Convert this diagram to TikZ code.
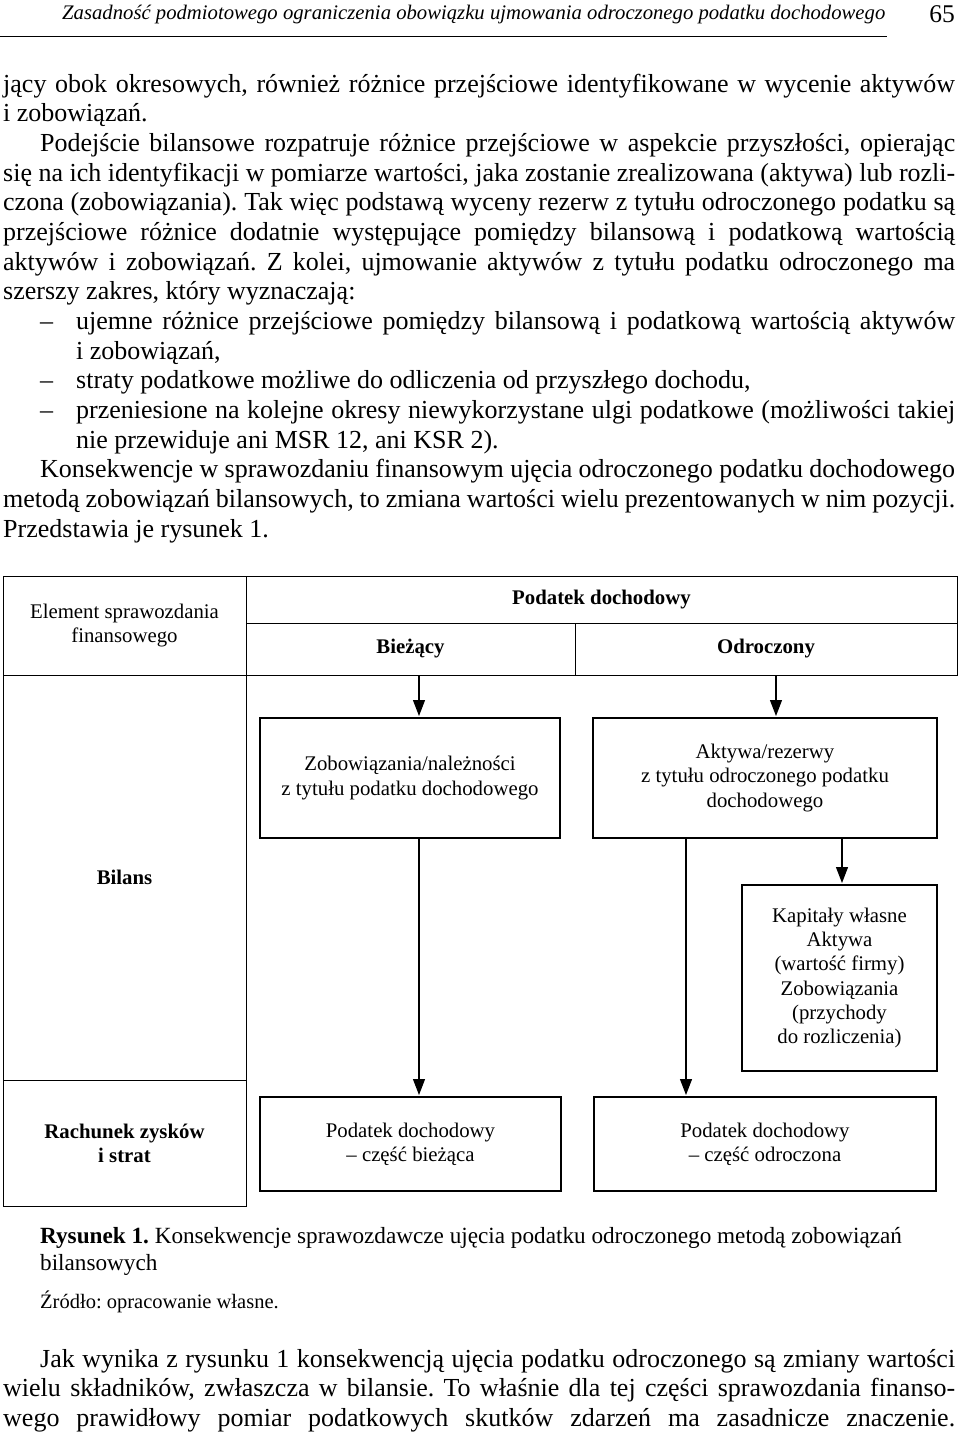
\documentclass[tikz,border=0pt]{standalone}
\usepackage{fontspec}
\setmainfont{Liberation Serif}
\usetikzlibrary{arrows.meta}
\frenchspacing
\newcommand{\jline}[2]{\makebox[#1][s]{\spaceskip=.25em plus 1em minus .14em\relax #2}}
\begin{document}
\begin{tikzpicture}[x=1pt,y=-1pt,
  body/.style={anchor=base west, inner sep=0pt, font=\fontsize{26}{29.7}\selectfont},
  hdr/.style={anchor=base west, inner sep=0pt, font=\fontsize{20.7}{24}\selectfont\itshape},
  captext/.style={anchor=base west, inner sep=0pt, font=\fontsize{23.2}{27}\selectfont},
  cell/.style={draw, line width=0.9pt, inner sep=0pt, align=center, font=\fontsize{20.8}{24.2}\selectfont},
  boldcell/.style={cell, font=\fontsize{20.8}{24.2}\selectfont\bfseries},
  box/.style={draw, line width=2pt, inner sep=0pt, align=center, font=\fontsize{20.8}{24.2}\selectfont},
  arr/.style={line width=1.2pt, -{Triangle[length=16pt,width=12pt]}, shorten >=1pt}]
\useasboundingbox (0,0) rectangle (960,1433);
\fill[white] (0,0) rectangle (960,1433);
% running header
\node[hdr] (head) at (62,19) {Zasadność podmiotowego ograniczenia obowiązku ujmowania odroczonego podatku dochodowego};
\node[anchor=base east, inner sep=0pt, font=\fontsize{25.5}{25}\selectfont] (pnum) at (955,22) {65};
\coordinate (ruleL) at (0,36);
\coordinate (ruleR) at (887,36);
\draw[line width=1pt] (ruleL) -- (ruleR);
% body text
\node[body] (l1) at (3,92) {\jline{952pt}{jący obok okresowych, również różnice przejściowe identyfikowane w wycenie aktywów}};
\node[body] (l2) at (3,121.7) {i zobowiązań.};
\node[body] (l3) at (40,151.3) {\jline{915pt}{Podejście bilansowe rozpatruje różnice przejściowe w aspekcie przyszłości, opierając}};
\node[body] (l4) at (3,181) {\jline{952pt}{się na ich identyfikacji w pomiarze wartości, jaka zostanie zrealizowana (aktywa) lub rozli-}};
\node[body] (l5) at (3,210.7) {\jline{952pt}{czona (zobowiązania). Tak więc podstawą wyceny rezerw z tytułu odroczonego podatku są}};
\node[body] (l6) at (3,240.3) {\jline{952pt}{przejściowe różnice dodatnie występujące pomiędzy bilansową i podatkową wartością}};
\node[body] (l7) at (3,270) {\jline{952pt}{aktywów i zobowiązań. Z kolei, ujmowanie aktywów z tytułu podatku odroczonego ma}};
\node[body] (l8) at (3,299.7) {szerszy zakres, który wyznaczają:};
\node[body] (d1) at (40,329.3) {–};
\node[body] (l9) at (76,329.3) {\jline{879pt}{ujemne różnice przejściowe pomiędzy bilansową i podatkową wartością aktywów}};
\node[body] (l10) at (76,359) {i zobowiązań,};
\node[body] (d2) at (40,388.7) {–};
\node[body] (l11) at (76,388.7) {straty podatkowe możliwe do odliczenia od przyszłego dochodu,};
\node[body] (d3) at (40,418.3) {–};
\node[body] (l12) at (76,418.3) {\jline{879pt}{przeniesione na kolejne okresy niewykorzystane ulgi podatkowe (możliwości takiej}};
\node[body] (l13) at (76,448) {nie przewiduje ani MSR 12, ani KSR 2).};
\node[body] (l14) at (40,477.7) {\jline{915pt}{Konsekwencje w sprawozdaniu finansowym ujęcia odroczonego podatku dochodowego}};
\node[body] (l15) at (3,507.3) {\jline{952pt}{metodą zobowiązań bilansowych, to zmiana wartości wielu prezentowanych w nim pozycji.}};
\node[body] (l16) at (3,537) {Przedstawia je rysunek 1.};
% table
\node[cell, minimum width=243pt, minimum height=99pt] (elem) at (124.5,625.5) {Element sprawozdania\\finansowego};
\node[boldcell, minimum width=711pt, minimum height=47pt] (pod) at (601.5,599.5) {Podatek dochodowy};
\node[boldcell, minimum width=329pt, minimum height=52pt] (biez) at (410.5,649) {Bieżący};
\node[boldcell, minimum width=382pt, minimum height=52pt] (odr) at (766,649) {Odroczony};
\node[boldcell, minimum width=243pt, minimum height=405pt] (bil) at (124.5,877.5) {Bilans};
\node[boldcell, minimum width=243pt, minimum height=126pt] (rach) at (124.5,1143) {Rachunek zysków\\i strat};
% boxes
\node[box, minimum width=300pt, minimum height=120pt] (boxA) at (410,778) {Zobowiązania/należności\\z tytułu podatku dochodowego};
\node[box, minimum width=344pt, minimum height=120pt] (boxB) at (765,778) {Aktywa/rezerwy\\z tytułu odroczonego podatku\\dochodowego};
\node[box, minimum width=195pt, minimum height=186pt] (boxC) at (839.5,978) {Kapitały własne\\Aktywa\\(wartość firmy)\\Zobowiązania\\(przychody\\do rozliczenia)};
\node[box, minimum width=301pt, minimum height=94pt] (boxD) at (410.5,1144) {Podatek dochodowy\\– część bieżąca};
\node[box, minimum width=342pt, minimum height=94pt] (boxE) at (765,1144) {Podatek dochodowy\\– część odroczona};
% arrows
\draw[arr] ([xshift=8.5pt]biez.south) -- ([xshift=8.5pt]biez.south |- boxA.north);
\draw[arr] ([xshift=10pt]odr.south) -- ([xshift=10pt]odr.south |- boxB.north);
\draw[arr] ([xshift=9pt]boxA.south) -- ([xshift=9pt]boxA.south |- boxD.north);
\draw[arr] ([xshift=-79pt]boxB.south) -- ([xshift=-79pt]boxB.south |- boxE.north);
\draw[arr] ([xshift=77pt]boxB.south) -- ([xshift=77pt]boxB.south |- boxC.north);
% caption
\node[captext] (cap1) at (40,1243) {\textbf{Rysunek 1.} Konsekwencje sprawozdawcze ujęcia podatku odroczonego metodą zobowiązań};
\node[captext] (cap2) at (40,1270) {bilansowych};
\node[anchor=base west, inner sep=0pt, font=\fontsize{20.5}{22}\selectfont] (src) at (40,1308) {Źródło: opracowanie własne.};
% last paragraph
\node[body] (m1) at (40,1367) {\jline{915pt}{Jak wynika z rysunku 1 konsekwencją ujęcia podatku odroczonego są zmiany wartości}};
\node[body] (m2) at (3,1396.7) {\jline{952pt}{wielu składników, zwłaszcza w bilansie. To właśnie dla tej części sprawozdania finanso-}};
\node[body] (m3) at (3,1426.3) {\jline{952pt}{wego prawidłowy pomiar podatkowych skutków zdarzeń ma zasadnicze znaczenie.}};
\end{tikzpicture}
\end{document}
